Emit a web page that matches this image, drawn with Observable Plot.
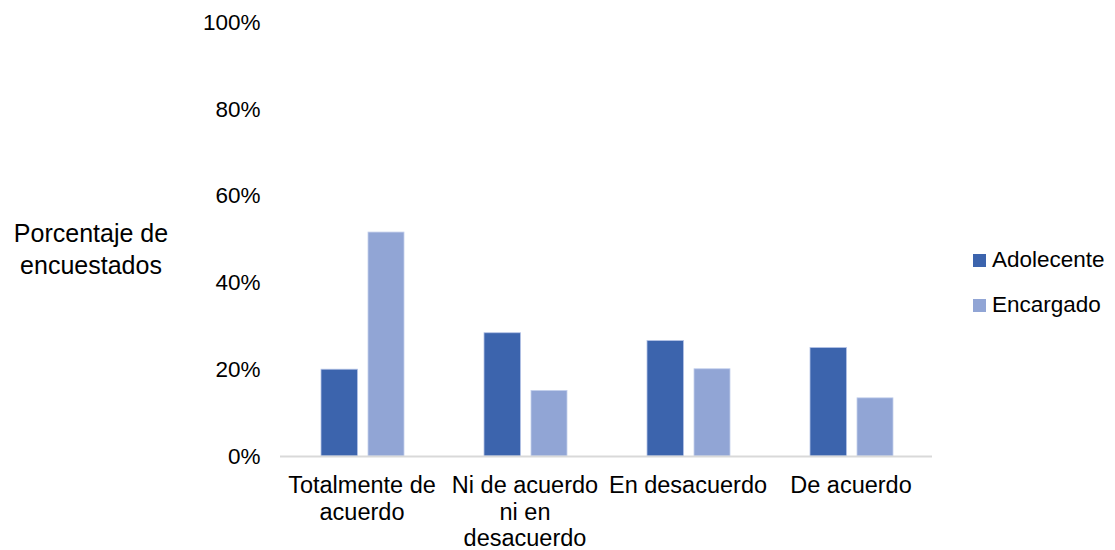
<!DOCTYPE html>
<html>
<head>
<meta charset="utf-8">
<script src="https://cdn.jsdelivr.net/npm/d3@7"></script>
<script src="https://cdn.jsdelivr.net/npm/@observablehq/plot@0.6"></script>
<style>
  html, body { margin: 0; padding: 0; background: #fff; }
  #wrap { position: relative; width: 1115px; height: 550px; font-family: "Liberation Sans", Arial, sans-serif; color: #000; overflow: hidden; }
  #ylabel { position: absolute; left: 0; top: 217px; width: 182px; text-align: center; font-size: 25px; line-height: 32px; }
  #legend { position: absolute; left: 973px; top: 245px; font-size: 22.5px; }
  .item { display: flex; align-items: center; height: 30px; margin-bottom: 15px; }
  .sw { width: 13px; height: 13px; margin-right: 6px; }
</style>
</head>
<body>
<div id="wrap">
  <div id="chart"></div>
  <div id="ylabel">Porcentaje de<br>encuestados</div>
  <div id="legend"></div>
</div>
<script>
const categories = ["Totalmente de acuerdo", "Ni de acuerdo ni en desacuerdo", "En desacuerdo", "De acuerdo"];
const tickLabels = ["Totalmente de\nacuerdo", "Ni de acuerdo\nni en\ndesacuerdo", "En desacuerdo", "De acuerdo"];
const series = ["Adolecente", "Encargado"];
const adolecente = [20.0, 28.4, 26.6, 25.0];
const encargado = [51.6, 15.1, 20.1, 13.4];
const colors = ["#3c64ad", "#91a5d5"];
const yTicks = [0, 0.2, 0.4, 0.6, 0.8, 1.0];

const dataA = categories.map((c, i) => ({cat: c, v: adolecente[i] / 100}));
const dataE = categories.map((c, i) => ({cat: c, v: encargado[i] / 100}));

const chart = Plot.plot({
  width: 1115,
  height: 550,
  marginLeft: 280,
  marginRight: 183,
  marginTop: 22,
  marginBottom: 94,
  style: {fontFamily: "'Liberation Sans', Arial, sans-serif", fontSize: "22px", color: "#000", background: "#fff", overflow: "visible"},
  x: {domain: categories, padding: 0},
  y: {domain: [0, 1]},
  marks: [
    Plot.axisY({ticks: yTicks, tickFormat: d3.format(".0%"), tickSize: 0, tickPadding: 20, label: null, fontSize: 22.5}),
    Plot.axisX({tickSize: 0, tickPadding: 18, label: null, fontSize: 23.5, lineHeight: 1.12,
      tickFormat: d => tickLabels[categories.indexOf(d)]}),
    Plot.barY(dataA, {x: "cat", y: "v", fill: colors[0], stroke: "#b4c3e6", strokeWidth: 0.8, insetLeft: 41, insetRight: 85.5}),
    Plot.barY(dataE, {x: "cat", y: "v", fill: colors[1], stroke: "#c3cfec", strokeWidth: 0.8, insetLeft: 88, insetRight: 39}),
    Plot.ruleY([0], {stroke: "#d9d9d9", strokeWidth: 2})
  ]
});
document.getElementById("chart").appendChild(chart);

const legend = document.getElementById("legend");
series.forEach((s, i) => {
  const item = document.createElement("div");
  item.className = "item";
  const sw = document.createElement("div");
  sw.className = "sw";
  sw.style.background = colors[i];
  const t = document.createElement("span");
  t.textContent = s;
  item.appendChild(sw);
  item.appendChild(t);
  legend.appendChild(item);
});
</script>
</body>
</html>
